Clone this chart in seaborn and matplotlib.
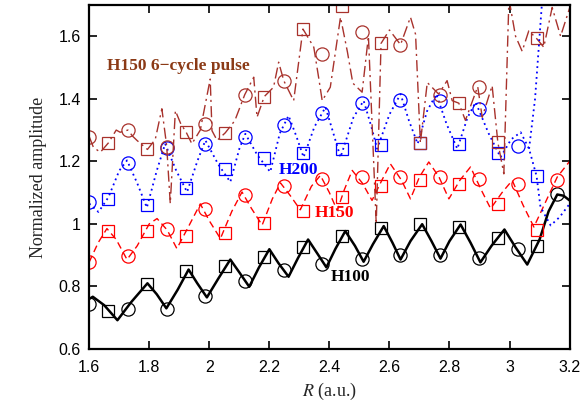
import matplotlib
matplotlib.use("Agg")
import matplotlib.pyplot as plt
import seaborn as sns
import numpy as np

# ---------------------------------------------
# data
# ---------------------------------------------
# marker positions (circles on even samples, squares on odd ones)
circle_x = [1.600, 1.729, 1.859, 1.987, 2.118, 2.248, 2.376, 2.507, 2.636, 2.768, 2.898, 3.027, 3.157]
square_x = [1.664, 1.794, 1.923, 2.052, 2.183, 2.313, 2.442, 2.572, 2.702, 2.831, 2.961, 3.091]

h100_circles = [0.744, 0.727, 0.727, 0.770, 0.818, 0.854, 0.873, 0.889, 0.900, 0.900, 0.891, 0.921, 1.094]
h100_squares = [0.720, 0.807, 0.849, 0.866, 0.893, 0.926, 0.961, 0.987, 0.999, 0.990, 0.956, 0.930]

h150_circles = [0.878, 0.897, 0.983, 1.049, 1.091, 1.120, 1.142, 1.150, 1.150, 1.150, 1.145, 1.129, 1.139]
h150_squares = [0.977, 0.977, 0.961, 0.972, 1.003, 1.040, 1.086, 1.121, 1.139, 1.129, 1.062, 0.982]

h200_circles = [1.070, 1.194, 1.242, 1.256, 1.277, 1.315, 1.355, 1.386, 1.397, 1.394, 1.368, 1.248]
h200_squares = [1.080, 1.059, 1.116, 1.176, 1.211, 1.227, 1.238, 1.251, 1.259, 1.254, 1.226, 1.153]

pulse_circles = [1.279, 1.300, 1.245, 1.318, 1.413, 1.458, 1.543, 1.613, 1.573, 1.413, 1.439]
pulse_squares = [1.259, 1.238, 1.293, 1.291, 1.407, 1.623, 1.697, 1.577, 1.259, 1.386, 1.261, 1.594]

# continuous curves
h100_x = [1.600, 1.612, 1.650, 1.694, 1.740, 1.794, 1.825, 1.857, 1.895, 1.931, 1.960, 1.992,
          2.030, 2.070, 2.100, 2.133, 2.165, 2.200, 2.230, 2.264, 2.295, 2.329, 2.360, 2.390,
          2.420, 2.453, 2.485, 2.514, 2.545, 2.581, 2.610, 2.637, 2.670, 2.709, 2.740, 2.770,
          2.800, 2.837, 2.870, 2.903, 2.940, 2.983, 3.020, 3.059, 3.100, 3.130, 3.159, 3.180, 3.200]
h100_y = [0.760, 0.767, 0.740, 0.692, 0.750, 0.810, 0.775, 0.730, 0.790, 0.854, 0.810, 0.765,
          0.825, 0.886, 0.845, 0.799, 0.860, 0.919, 0.875, 0.831, 0.890, 0.950, 0.905, 0.861,
          0.920, 0.977, 0.930, 0.879, 0.935, 0.993, 0.940, 0.886, 0.945, 0.999, 0.945, 0.889,
          0.945, 0.998, 0.940, 0.877, 0.930, 0.982, 0.925, 0.870, 0.950, 1.040, 1.094, 1.090, 1.075]

h150_x = [1.600, 1.630, 1.659, 1.690, 1.726, 1.760, 1.800, 1.826, 1.860, 1.892, 1.930, 1.970,
          2.000, 2.037, 2.075, 2.109, 2.140, 2.176, 2.210, 2.237, 2.270, 2.303, 2.340, 2.370,
          2.400, 2.426, 2.450, 2.476, 2.510, 2.542, 2.575, 2.603, 2.640, 2.670, 2.700, 2.731,
          2.765, 2.798, 2.835, 2.870, 2.905, 2.937, 2.975, 3.009, 3.045, 3.081, 3.120, 3.159, 3.200]
h150_y = [0.878, 0.940, 0.985, 0.950, 0.886, 0.930, 1.000, 1.017, 0.980, 0.921, 0.990, 1.064,
          1.010, 0.953, 1.040, 1.102, 1.050, 0.996, 1.080, 1.131, 1.090, 1.045, 1.120, 1.155,
          1.100, 1.043, 1.110, 1.171, 1.130, 1.075, 1.140, 1.192, 1.140, 1.080, 1.150, 1.198,
          1.150, 1.080, 1.140, 1.182, 1.110, 1.049, 1.100, 1.139, 1.060, 0.990, 1.070, 1.150, 1.200]

h200_x = [1.600, 1.631, 1.664, 1.700, 1.726, 1.760, 1.792, 1.825, 1.853, 1.890, 1.926, 1.960,
          1.987, 2.030, 2.070, 2.100, 2.120, 2.160, 2.203, 2.235, 2.264, 2.290, 2.314, 2.350,
          2.387, 2.410, 2.437, 2.480, 2.514, 2.540, 2.559, 2.600, 2.637, 2.665, 2.694, 2.725,
          2.756, 2.790, 2.826, 2.860, 2.887, 2.930, 2.970, 3.005, 3.037, 3.065, 3.090, 3.103,
          3.137, 3.167, 3.200]
h200_y = [1.065, 1.038, 1.085, 1.170, 1.203, 1.130, 1.052, 1.170, 1.256, 1.170, 1.102, 1.200,
          1.267, 1.190, 1.134, 1.240, 1.288, 1.220, 1.166, 1.290, 1.346, 1.280, 1.213, 1.310,
          1.373, 1.300, 1.213, 1.340, 1.394, 1.310, 1.240, 1.350, 1.415, 1.330, 1.256, 1.360,
          1.415, 1.320, 1.240, 1.340, 1.389, 1.290, 1.213, 1.270, 1.293, 1.240, 1.153, 1.054,
          0.995, 1.022, 1.064]
h200_branch_x = [3.065, 3.085, 3.109]
h200_branch_y = [1.240, 1.400, 1.720]

pulse_x = [1.600, 1.614, 1.637, 1.664, 1.690, 1.703, 1.729, 1.745, 1.759, 1.794, 1.820, 1.842,
           1.858, 1.870, 1.887, 1.905, 1.923, 1.942, 1.970, 2.003, 2.009, 2.026, 2.053, 2.085,
           2.118, 2.148, 2.159, 2.183, 2.214, 2.231, 2.248, 2.281, 2.312, 2.348, 2.364, 2.376,
           2.403, 2.437, 2.460, 2.478, 2.509, 2.530, 2.556, 2.572, 2.600, 2.637, 2.670, 2.687,
           2.703, 2.726, 2.764, 2.792, 2.809, 2.831, 2.853, 2.894, 2.909, 2.942, 2.961, 2.981,
           2.998, 3.020, 3.042, 3.064, 3.089, 3.114, 3.142, 3.170, 3.200]
pulse_y = [1.279, 1.245, 1.229, 1.259, 1.300, 1.293, 1.300, 1.280, 1.267, 1.238, 1.270, 1.368,
           1.250, 1.065, 1.362, 1.320, 1.293, 1.256, 1.300, 1.463, 1.298, 1.267, 1.291, 1.330,
           1.413, 1.469, 1.341, 1.407, 1.437, 1.517, 1.458, 1.394, 1.623, 1.565, 1.469, 1.394,
           1.437, 1.661, 1.550, 1.450, 1.421, 1.600, 1.000, 1.577, 1.620, 1.573, 1.661, 1.606,
           1.259, 1.452, 1.415, 1.458, 1.394, 1.386, 1.331, 1.439, 1.341, 1.442, 1.261, 1.160,
           1.720, 1.600, 1.552, 1.617, 1.594, 1.565, 1.692, 1.600, 1.690]

x_ticks = [1.6, 1.8, 2.0, 2.2, 2.4, 2.6, 2.8, 3.0, 3.2]
y_ticks = [0.6, 0.8, 1.0, 1.2, 1.4, 1.6]

# ---------------------------------------------
# plot
# ---------------------------------------------
sns.set_theme(style="ticks")
plt.rcParams['font.family'] = ['Liberation Sans', 'DejaVu Sans']
plt.rcParams['mathtext.fontset'] = 'stix'

BROWN = '#a8322c'
fig, ax = plt.subplots(figsize=(5.83, 4.13), dpi=100)
fig.subplots_adjust(left=0.153, right=0.977, bottom=0.155, top=0.988)

series = [
    (h100_x, h100_y, h100_circles, h100_squares, 'black', '-', 1.8),
    (h150_x, h150_y, h150_circles, h150_squares, 'red', (0, (5, 3)), 1.0),
    (h200_x, h200_y, h200_circles, h200_squares, 'blue', (0, (1, 2)), 1.3),
    (pulse_x, pulse_y, pulse_circles, pulse_squares, BROWN, (0, (8, 3, 1.5, 3)), 1.0),
]

for lx, ly, yc, ys, col, ls, lw in series:
    sns.lineplot(x=lx, y=ly, sort=False, estimator=None, color=col,
                 linestyle=ls, linewidth=lw, ax=ax)
    sns.lineplot(x=circle_x[:len(yc)], y=yc, sort=False, estimator=None, color=col,
                 linestyle='', marker='o', markersize=9.5, markerfacecolor='none',
                 markeredgecolor=col, markeredgewidth=0.9, ax=ax)
    sns.lineplot(x=square_x[:len(ys)], y=ys, sort=False, estimator=None, color=col,
                 linestyle='', marker='s', markersize=9, markerfacecolor='none',
                 markeredgecolor=col, markeredgewidth=0.9, ax=ax)

sns.lineplot(x=h200_branch_x, y=h200_branch_y, sort=False, estimator=None, color='blue',
             linestyle=(0, (1, 2)), linewidth=1.3, ax=ax)

serif = ['Liberation Serif', 'DejaVu Serif']
ax.text(1.66, 1.506, 'H150 6\u2212cycle pulse', color='#8b3a16', fontsize=12.5,
        fontweight='bold', family=serif, va='center', ha='left')
ax.text(2.23, 1.171, 'H200', color='blue', fontsize=12.5, fontweight='bold',
        family=serif, va='center', ha='left')
ax.text(2.35, 1.034, 'H150', color='red', fontsize=12.5, fontweight='bold',
        family=serif, va='center', ha='left')
ax.text(2.403, 0.83, 'H100', color='black', fontsize=12.5, fontweight='bold',
        family=serif, va='center', ha='left')

ax.set_xlim(1.6, 3.2)
ax.set_ylim(0.6, 1.7)
ax.set_xticks(x_ticks)
ax.set_yticks(y_ticks)
ax.set_xticklabels([f"{t:g}" for t in x_ticks])
ax.set_yticklabels([f"{t:g}" for t in y_ticks])
ax.tick_params(direction='in', top=True, right=True, length=6, width=1.2,
               labelsize=11.5, colors='black')
ax.tick_params(axis='x', pad=8)
ax.tick_params(axis='y', pad=6)
for sp in ax.spines.values():
    sp.set_linewidth(1.6)
    sp.set_color('black')

ax.set_xlabel('$R$ (a.u.)', fontsize=13, family=serif, labelpad=4)
ax.set_ylabel('Normalized amplitude', fontsize=13, family=serif, labelpad=8)

plt.savefig('out.png', dpi=100)
